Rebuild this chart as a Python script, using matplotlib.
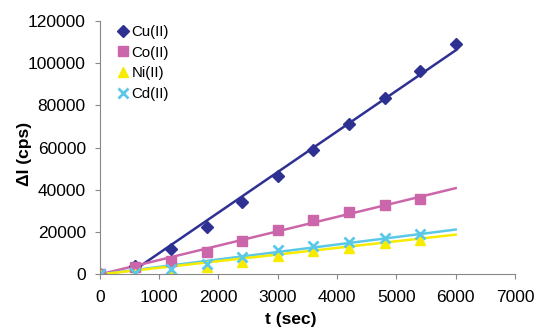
import matplotlib.pyplot as plt

plt.rcParams['font.family'] = ['Liberation Sans', 'DejaVu Sans']

# time points (s)
t_cu = [0, 600, 1200, 1800, 2400, 3000, 3600, 4200, 4800, 5400, 6000]
t_rest = [0, 600, 1200, 1800, 2400, 3000, 3600, 4200, 4800, 5400]

cu = [0, 3900, 11900, 22400, 34200, 46700, 58900, 71200, 83600, 96200, 109200]
co = [0, 3300, 6300, 10500, 15800, 21000, 25500, 29400, 32600, 35800]
ni = [0, 300, 800, 3600, 6000, 8500, 10900, 12500, 14800, 16400]
cd = [0, 800, 2700, 4900, 8400, 11300, 13200, 15100, 17200, 19300]

# trendline end points
cu_fit_t, cu_fit = [600, 6000], [2400, 106000]
co_fit_t, co_fit = [0, 6000], [0, 40800]
ni_fit_t, ni_fit = [0, 6000], [0, 18800]
cd_fit_t, cd_fit = [0, 6000], [0, 21200]

c_cu = '#2e3192'
c_co = '#cc66aa'
c_ni = '#f7ec00'
c_cd = '#5bc8e8'

fig = plt.figure(figsize=(5.37, 3.29), dpi=100)
ax = fig.add_axes([0.186, 0.166, 0.773, 0.771])

ax.plot(cu_fit_t, cu_fit, color=c_cu, lw=1.8)
ax.plot(co_fit_t, co_fit, color=c_co, lw=1.8)
ax.plot(cd_fit_t, cd_fit, color=c_cd, lw=1.8)
ax.plot(ni_fit_t, ni_fit, color=c_ni, lw=1.8)

ax.plot(t_cu, cu, 'D', color=c_cu, ms=6.5, label='Cu(II)')
ax.plot(t_rest, co, 's', color=c_co, ms=6.5, label='Co(II)')
ax.plot(t_rest, ni, '^', color=c_ni, ms=7, label='Ni(II)')
ax.plot(t_rest, cd, 'x', color=c_cd, ms=7, mew=2, label='Cd(II)')

ax.set_xlim(0, 7000)
ax.set_ylim(0, 120000)
ax.set_xticks(range(0, 7001, 1000))
ax.set_yticks(range(0, 120001, 20000))

for s in ['top', 'right']:
    ax.spines[s].set_visible(False)
for s in ['left', 'bottom']:
    ax.spines[s].set_color('#888888')
ax.tick_params(direction='out', length=3.6, color='#888888', labelsize=12.5)
ax.tick_params(axis='x', pad=7.5)
ax.tick_params(axis='y', pad=6.5)

ax.set_xlabel('t (sec)', fontsize=12.5, fontweight='bold')
ax.set_ylabel('ΔI (cps)', fontsize=12.5, fontweight='bold')
ax.xaxis.set_label_coords(0.46, -0.148)
ax.yaxis.set_label_coords(-0.164, 0.475)

ax.legend(loc='upper left', bbox_to_anchor=(0.015, 1.025), frameon=False,
          fontsize=10.8, handlelength=0.8, handletextpad=0.2, labelspacing=0.45,
          borderaxespad=0.3)

fig.savefig('out.png', dpi=100)
